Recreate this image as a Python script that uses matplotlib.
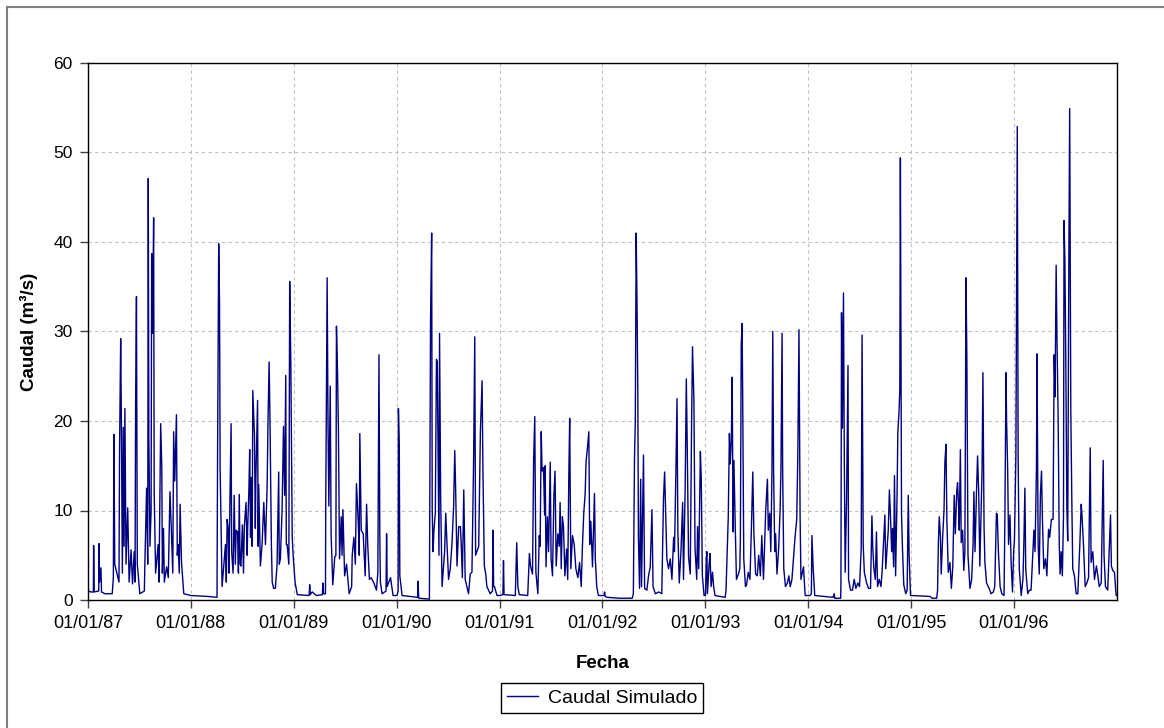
import numpy as np
import matplotlib
matplotlib.use('Agg')
import matplotlib.pyplot as plt
import matplotlib.dates as mdates
from matplotlib.patches import Rectangle

plt.rcParams['font.family'] = ['Liberation Sans', 'DejaVu Sans']

# Caudal simulado (m3/s): pares (dia del anio, caudal)
q1987 = [(0, 1.8), (2, 1.0), (10, 0.9), (19, 0.9), (20, 6.1), (22, 0.9), (38, 1.0), (39, 6.3), (41, 2.0),
         (46, 3.6), (48, 0.9), (60, 0.7), (86, 0.7), (90, 2.5), (92, 18.5), (95, 4.0), (110, 2.0), (112, 16.6),
         (116, 29.2), (118, 21.9), (122, 3.0), (125, 19.3), (128, 6.0), (131, 21.4), (135, 4.0), (141, 10.3),
         (146, 2.0), (153, 5.6), (158, 1.8), (164, 5.4), (167, 2.0), (169, 21.9), (172, 33.9), (175, 4.0),
         (184, 0.7), (200, 1.0), (202, 4.2), (208, 12.5), (212, 4.0), (214, 47.1), (216, 18.0), (220, 6.0),
         (224, 10.0), (226, 38.7), (229, 29.8), (233, 42.7), (235, 12.0), (240, 3.0), (249, 6.2), (252, 2.0),
         (258, 19.7), (262, 14.8), (264, 3.0), (268, 8.0), (271, 2.0), (279, 3.7), (285, 2.5), (291, 12.1),
         (296, 7.8), (301, 3.0), (304, 18.8), (308, 13.3), (314, 20.7), (317, 5.0), (320, 6.2), (324, 3.0),
         (327, 10.7), (332, 4.2), (340, 0.7), (364, 0.5)]

q1988 = [(0, 0.5), (60, 0.4), (93, 0.3), (95, 16.4), (99, 39.8), (102, 32.9), (104, 14.8), (111, 1.5),
         (123, 6.2), (126, 2.0), (129, 9.0), (133, 7.8), (135, 3.0), (143, 19.7), (145, 5.4), (150, 3.0),
         (154, 11.7), (158, 4.0), (161, 7.8), (166, 7.6), (169, 3.0), (172, 11.8), (175, 4.0), (178, 3.8),
         (183, 8.4), (187, 3.0), (190, 8.2), (196, 10.9), (200, 5.0), (202, 8.2), (206, 12.1), (209, 16.8),
         (212, 7.0), (214, 13.7), (218, 6.0), (220, 23.4), (226, 18.4), (229, 8.0), (231, 13.7), (237, 22.3),
         (239, 6.0), (241, 12.9), (247, 3.8), (253, 6.2), (259, 10.9), (265, 6.2), (271, 12.9), (274, 19.9),
         (278, 26.6), (281, 20.3), (286, 6.2), (289, 2.0), (294, 1.3), (300, 1.3), (306, 3.8), (312, 14.3),
         (314, 4.0), (318, 4.6), (324, 10.1), (329, 19.4), (333, 11.7), (337, 25.1), (339, 6.2), (342, 6.2),
         (348, 4.0), (351, 35.6), (355, 26.6), (360, 7.0), (364, 4.6)]

q1989 = [(0, 3.8), (4, 2.0), (12, 0.6), (54, 0.5), (56, 1.7), (58, 0.6), (65, 0.9), (80, 0.5), (101, 0.6),
         (103, 1.9), (105, 0.7), (112, 0.7), (113, 10.7), (118, 36.0), (121, 19.9), (124, 10.5), (129, 23.9),
         (132, 7.4), (138, 1.7), (145, 4.8), (149, 5.0), (151, 30.6), (155, 25.2), (158, 19.0), (162, 4.6),
         (168, 9.3), (171, 5.0), (174, 10.1), (180, 2.7), (187, 4.0), (196, 0.7), (205, 1.5), (207, 5.0),
         (213, 7.0), (218, 4.0), (222, 13.0), (228, 9.0), (232, 5.0), (234, 18.6), (239, 7.8), (246, 7.4),
         (253, 2.7), (258, 10.7), (262, 6.2), (268, 2.3), (274, 2.5), (284, 1.9), (293, 1.1), (298, 3.1),
         (302, 27.4), (305, 7.0), (307, 2.0), (313, 0.7), (327, 1.0), (329, 7.4), (331, 1.5), (343, 2.5),
         (352, 0.5), (364, 0.5)]

q1990 = [(1, 0.5), (5, 1.0), (6, 21.4), (9, 17.2), (11, 2.7), (19, 0.5), (74, 0.3), (76, 2.1), (78, 0.2),
         (116, 0.1), (117, 7.8), (120, 31.2), (124, 41.0), (126, 10.0), (129, 5.4), (132, 7.8), (137, 9.7),
         (141, 26.9), (144, 26.6), (147, 15.2), (150, 5.0), (152, 29.8), (156, 11.3), (161, 1.5), (167, 4.2),
         (170, 5.4), (174, 9.7), (178, 6.6), (184, 2.3), (190, 3.5), (196, 6.2), (202, 10.5), (206, 16.7),
         (209, 12.7), (214, 3.8), (220, 8.2), (226, 8.2), (229, 6.2), (233, 2.5), (238, 12.3), (243, 2.3),
         (255, 0.7), (261, 2.9), (267, 3.1), (273, 15.8), (277, 29.4), (280, 5.0), (291, 6.0), (297, 18.8),
         (303, 24.5), (306, 14.5), (311, 3.8), (316, 2.9), (320, 1.5), (332, 0.7), (340, 1.0), (342, 7.8),
         (344, 1.5), (347, 1.5), (356, 0.5), (364, 0.5)]

q1991 = [(0, 0.5), (12, 0.6), (14, 4.4), (16, 0.6), (56, 0.5), (61, 6.4), (65, 1.5), (70, 0.6), (100, 0.5),
         (106, 5.2), (110, 3.8), (117, 2.9), (121, 15.6), (125, 20.5), (129, 3.1), (136, 0.7), (141, 7.2),
         (144, 6.0), (148, 18.8), (151, 14.4), (156, 14.8), (160, 9.5), (162, 15.0), (165, 3.7), (170, 9.3),
         (174, 5.4), (180, 15.4), (183, 4.6), (188, 2.7), (193, 11.7), (197, 14.4), (201, 3.8), (207, 7.4),
         (212, 6.0), (215, 10.9), (219, 3.5), (223, 9.3), (227, 8.2), (232, 2.7), (238, 5.7), (242, 2.3),
         (246, 14.0), (249, 20.3), (253, 3.5), (259, 7.2), (265, 6.2), (271, 3.5), (278, 2.5), (284, 4.2),
         (290, 1.5), (294, 5.8), (299, 9.7), (304, 11.9), (307, 15.4), (312, 17.0), (317, 18.8), (320, 6.2),
         (324, 8.8), (330, 3.7), (337, 11.9), (340, 4.6), (345, 1.5), (351, 0.5), (363, 0.5)]

q1992 = [(6, 0.5), (8, 0.9), (10, 0.4), (17, 0.3), (60, 0.2), (106, 0.2), (110, 0.7), (114, 15.6),
         (117, 20.1), (120, 41.0), (123, 33.3), (126, 22.7), (128, 7.0), (132, 1.3), (136, 13.5), (139, 1.5),
         (146, 16.2), (150, 1.3), (158, 1.1), (164, 2.7), (170, 3.7), (176, 10.1), (180, 1.5), (188, 0.7),
         (200, 0.9), (211, 0.7), (217, 11.3), (221, 14.3), (224, 10.7), (229, 4.6), (235, 3.5), (241, 4.6),
         (247, 2.3), (253, 7.0), (256, 5.4), (261, 14.2), (265, 22.5), (268, 7.8), (273, 1.9), (279, 5.4),
         (285, 10.9), (288, 2.3), (294, 12.5), (298, 24.7), (301, 18.0), (306, 4.8), (312, 2.9), (317, 20.5),
         (320, 28.3), (325, 22.4), (329, 5.8), (335, 2.3), (338, 8.2), (342, 3.5), (348, 16.6), (351, 13.7),
         (355, 2.7), (361, 0.5), (365, 0.5)]

q1993 = [(0, 0.5), (3, 4.6), (5, 5.4), (7, 0.7), (13, 4.0), (16, 5.2), (20, 1.5), (25, 3.1), (29, 1.5),
         (34, 0.5), (70, 0.3), (73, 1.1), (81, 9.3), (85, 18.6), (88, 15.2), (92, 18.0), (95, 24.9), (98, 7.6),
         (101, 15.6), (105, 9.3), (110, 2.3), (117, 2.9), (122, 3.5), (124, 7.0), (127, 28.4), (130, 30.9),
         (132, 23.5), (136, 4.6), (142, 1.5), (146, 1.7), (152, 3.1), (158, 2.3), (164, 9.0), (168, 14.3),
         (172, 7.4), (178, 2.9), (184, 2.7), (189, 5.0), (195, 2.7), (200, 7.2), (206, 2.3), (214, 10.1),
         (220, 13.5), (223, 7.8), (228, 9.7), (232, 5.4), (236, 14.1), (239, 30.0), (242, 14.1), (246, 5.4),
         (249, 7.4), (254, 2.9), (260, 5.8), (265, 10.1), (268, 14.6), (272, 29.8), (274, 14.8), (278, 3.5),
         (284, 1.5), (291, 1.9), (296, 2.7), (301, 1.5), (307, 2.3), (318, 7.0), (324, 9.0), (328, 16.4),
         (332, 30.2), (336, 9.3), (339, 2.3), (348, 3.7), (354, 0.5), (364, 0.5)]

q1994 = [(6, 0.5), (11, 0.7), (13, 7.2), (17, 3.8), (23, 0.5), (88, 0.3), (92, 0.7), (94, 0.2), (115, 0.2),
         (116, 1.9), (118, 32.1), (121, 19.2), (125, 34.3), (128, 15.2), (131, 3.1), (136, 11.3), (141, 26.2),
         (143, 2.3), (150, 1.1), (157, 1.1), (163, 2.3), (169, 1.3), (176, 1.9), (182, 1.5), (188, 5.8),
         (191, 29.6), (195, 6.2), (199, 3.1), (207, 1.9), (214, 1.3), (221, 1.3), (226, 9.4), (229, 5.8),
         (233, 3.5), (238, 2.3), (242, 7.6), (246, 1.5), (252, 2.3), (258, 1.5), (262, 3.1), (268, 6.8),
         (272, 9.5), (275, 3.5), (284, 7.8), (288, 12.3), (292, 9.3), (296, 5.4), (299, 8.0), (303, 3.7),
         (306, 13.9), (310, 2.7), (315, 11.3), (318, 18.8), (322, 20.9), (325, 23.5), (327, 49.4), (331, 9.7),
         (334, 6.2), (339, 1.7), (346, 0.7), (351, 1.1), (355, 11.7), (358, 5.0), (363, 0.5)]

q1995 = [(2, 0.5), (67, 0.4), (75, 0.2), (91, 0.2), (94, 1.1), (97, 6.6), (100, 9.3), (104, 7.2), (107, 2.9),
         (112, 7.0), (117, 10.1), (120, 15.4), (124, 17.4), (127, 9.0), (132, 3.1), (138, 4.2), (143, 1.3),
         (148, 3.7), (153, 11.7), (157, 7.4), (162, 12.1), (165, 13.1), (169, 10.1), (171, 7.8), (175, 16.8),
         (178, 6.4), (183, 7.8), (187, 3.3), (191, 5.4), (195, 36.0), (198, 27.0), (202, 5.0), (209, 1.3),
         (215, 2.3), (220, 6.2), (223, 12.1), (227, 5.4), (232, 11.9), (236, 16.1), (240, 12.1), (244, 3.8),
         (248, 9.0), (252, 14.5), (255, 25.4), (259, 8.2), (262, 4.2), (268, 1.9), (277, 1.3), (284, 0.7),
         (292, 0.9), (297, 1.5), (303, 9.7), (306, 9.5), (310, 5.4), (316, 1.5), (322, 0.7), (330, 0.5),
         (333, 9.3), (337, 25.4), (339, 20.1), (343, 14.4), (346, 6.2), (351, 9.5), (355, 4.2), (360, 0.9),
         (364, 5.4)]

q1996 = [(2, 6.8), (7, 16.0), (9, 30.5), (12, 52.9), (15, 16.1), (19, 3.5), (26, 0.5), (32, 2.3), (35, 5.8),
         (39, 12.5), (42, 3.5), (49, 0.7), (55, 1.1), (61, 1.1), (71, 7.8), (75, 5.4), (80, 14.6), (82, 27.5),
         (86, 6.2), (90, 2.9), (94, 11.7), (98, 14.4), (101, 9.3), (106, 3.5), (112, 4.6), (117, 2.7),
         (123, 7.9), (127, 7.0), (133, 9.0), (139, 9.0), (143, 27.4), (146, 22.7), (150, 37.4), (153, 29.0),
         (157, 20.5), (161, 6.2), (164, 2.9), (168, 5.4), (172, 2.7), (176, 9.3), (178, 42.4), (181, 38.0),
         (184, 27.6), (188, 10.3), (191, 6.6), (195, 37.6), (198, 54.9), (202, 21.1), (206, 10.1), (209, 3.5),
         (215, 2.7), (221, 0.7), (227, 0.7), (234, 6.2), (239, 10.7), (242, 9.3), (247, 6.2), (253, 1.5),
         (259, 1.9), (265, 2.5), (271, 17.0), (274, 4.2), (280, 5.4), (286, 2.3), (293, 3.8), (298, 2.7),
         (303, 1.5), (310, 1.9), (317, 15.6), (320, 5.0), (325, 1.5), (333, 1.1), (339, 6.2), (343, 9.5),
         (346, 3.8), (351, 3.3), (357, 3.1), (363, 0.5), (365, 0.5)]

anios = [1987, 1988, 1989, 1990, 1991, 1992, 1993, 1994, 1995, 1996]
series = [q1987, q1988, q1989, q1990, q1991, q1992, q1993, q1994, q1995, q1996]

# armar la serie completa de fechas
fechas = []
caudal = []
for anio, serie in zip(anios, series):
    inicio = np.datetime64(f'{anio}-01-01')
    for dia, q in serie:
        fechas.append(inicio + np.timedelta64(dia, 'D'))
        caudal.append(q)

W, H = 1164, 728
fig = plt.figure(figsize=(W / 100, H / 100), dpi=100)
ax = fig.add_axes([88 / W, 1 - 600 / H, (1117 - 88) / W, (600 - 63) / H])

ax.plot(fechas, caudal, color='#000080', lw=1.0, label='Caudal Simulado')

ax.set_xlim(np.datetime64('1987-01-01'), np.datetime64('1997-01-01'))
ax.set_ylim(0, 60)
ax.set_yticks(range(0, 61, 10))
ax.set_xticks([np.datetime64(f'{a}-01-01') for a in anios])
ax.xaxis.set_major_formatter(mdates.DateFormatter('%d/%m/%y'))

ax.grid(True, color='#c0c0c0', linestyle=(0, (3, 3)), lw=0.8)
ax.set_axisbelow(True)
ax.tick_params(direction='out', length=6, width=1, color='#404040', pad=5)
ax.tick_params(axis='x', labelsize=13)
ax.tick_params(axis='y', labelsize=12.5)
for s in ax.spines.values():
    s.set_color('black')
    s.set_linewidth(1)

ax.set_xlabel('Fecha', fontsize=13.5, fontweight='bold', labelpad=16)
ax.set_ylabel('Caudal (m³/s)', fontsize=13.5, fontweight='bold')
ax.yaxis.set_label_coords(-0.049, 0.5)

fig.legend(loc='center', bbox_to_anchor=(602 / W, 1 - 698 / H), fontsize=14, frameon=True,
           fancybox=False, edgecolor='black', framealpha=1, handlelength=1.6, borderpad=0.3,
           handletextpad=0.5)

# borde gris exterior
fig.patches.append(Rectangle((7 / W, -0.05), 1.2, 1 - 7 / H + 0.05, transform=fig.transFigure,
                             fill=False, edgecolor='#808080', lw=1.5))

plt.savefig('out.png', dpi=100)
